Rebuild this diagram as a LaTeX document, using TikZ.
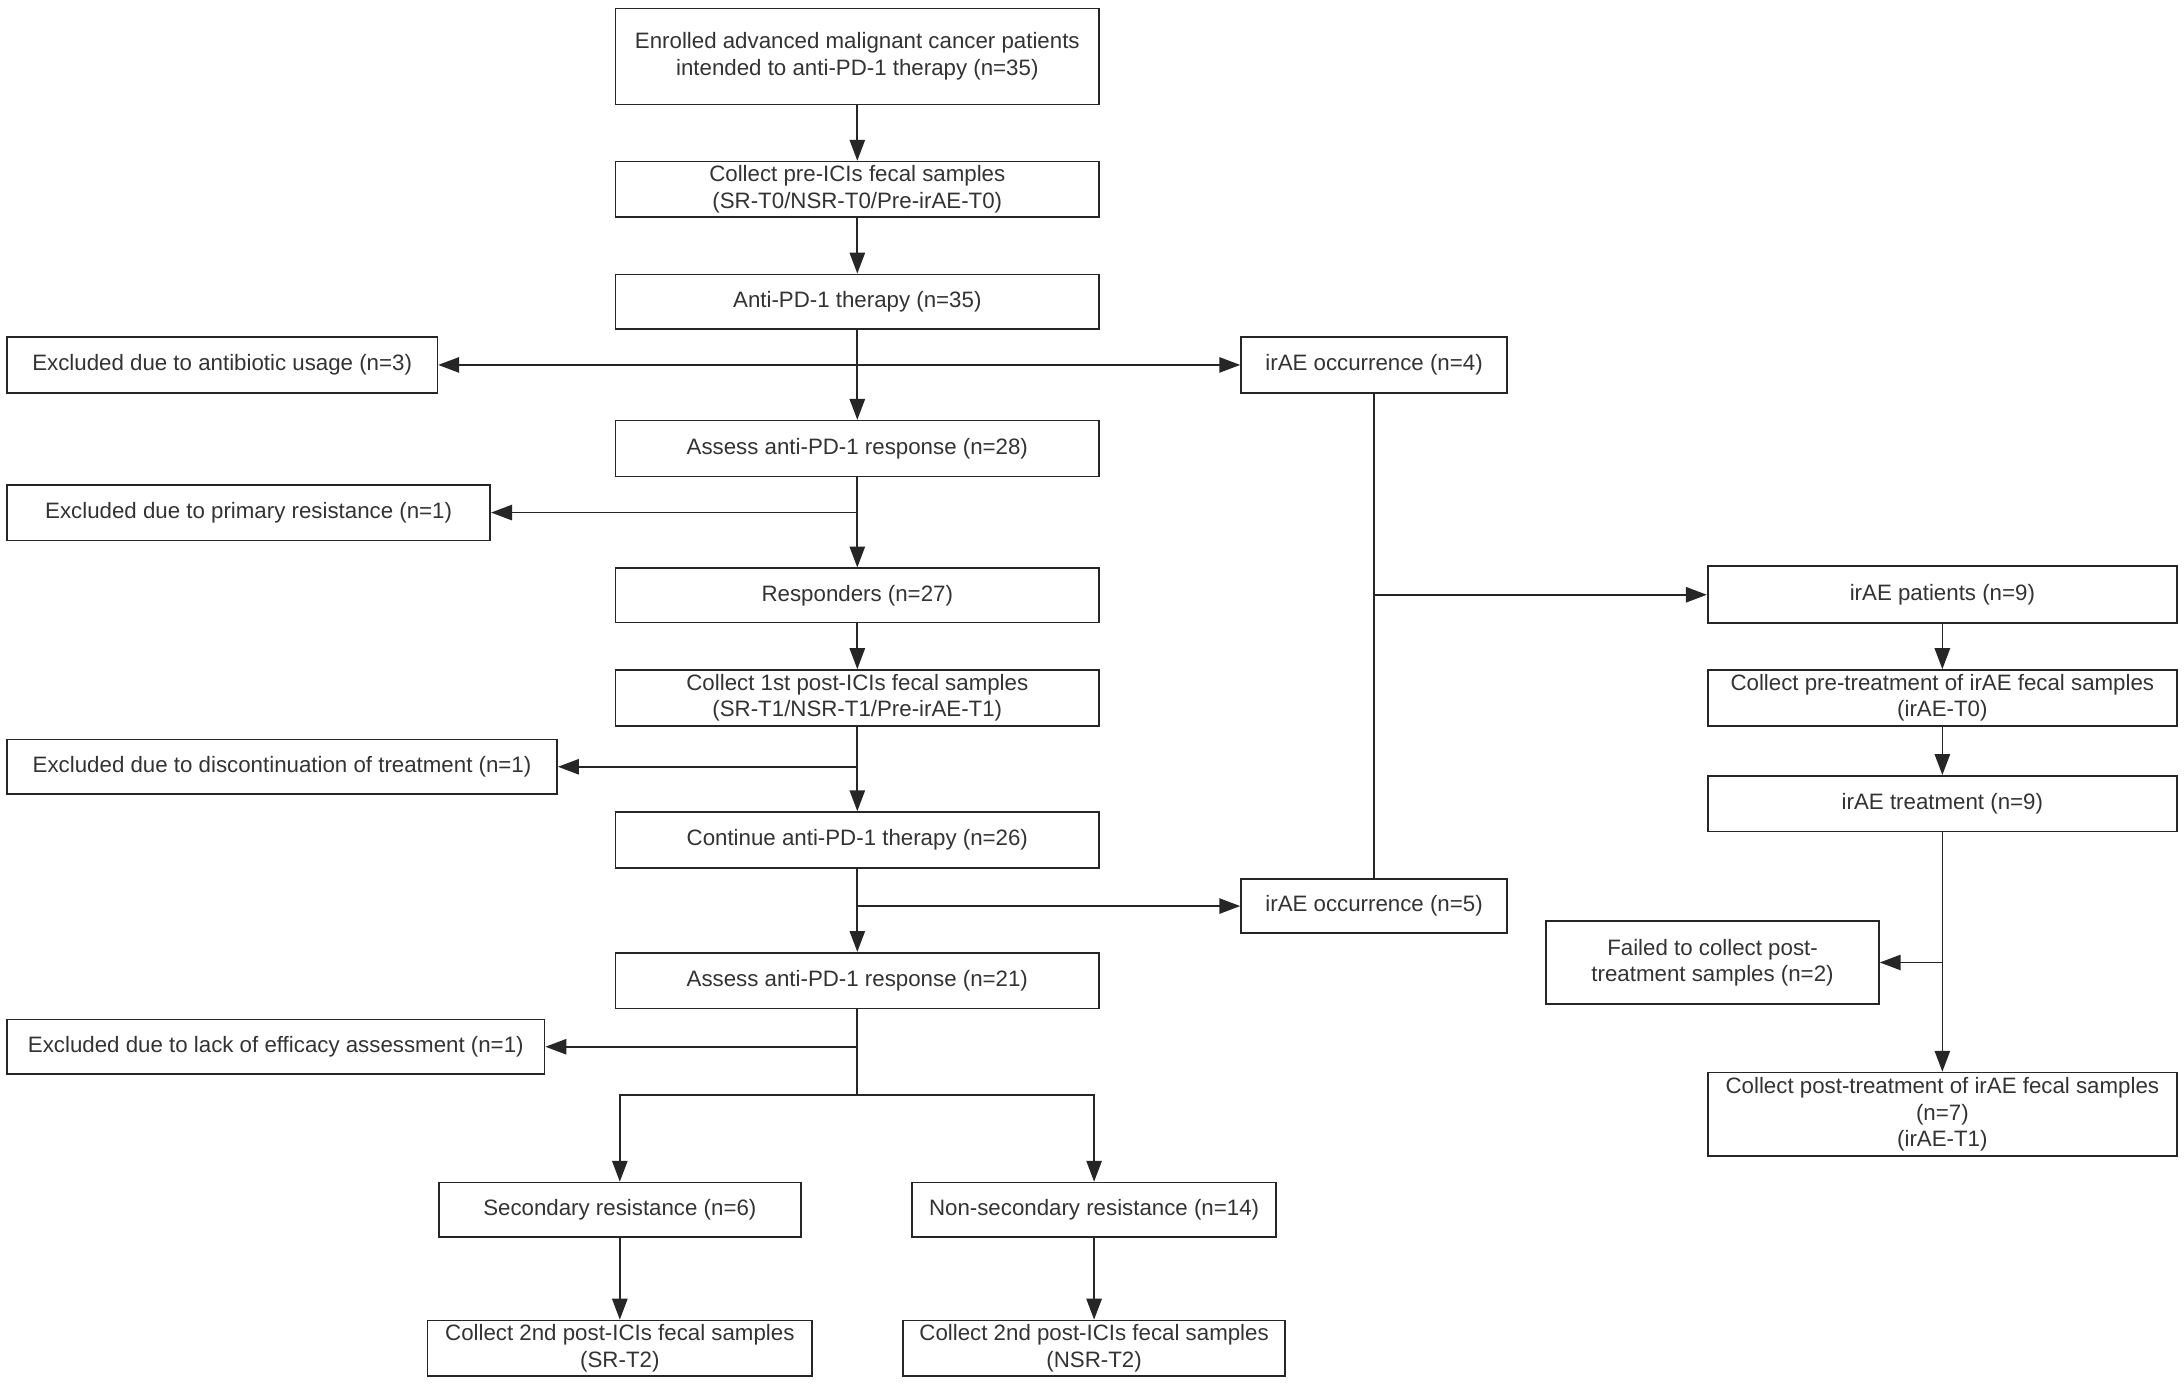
\documentclass[tikz,border=0pt]{standalone}
\usepackage{fontspec}
\setmainfont{Liberation Sans}
\usetikzlibrary{arrows.meta}
\definecolor{txt}{HTML}{333333}
\definecolor{ln}{HTML}{262626}
\begin{document}
\begin{tikzpicture}[x=1pt,y=-1pt,
  box/.style={draw=ln, line width=1.2pt, inner sep=0pt, align=center, text=txt,
    font=\fontsize{16}{19}\selectfont},
  con/.style={draw=ln, line width=1.2pt},
  arr/.style={con, -{Triangle[length=15pt,width=11pt]}}]
\useasboundingbox[fill=white] (0,0) rectangle (1568,993.6);
% main column
\node[box, minimum width=347pt, minimum height=69pt] (b1) at (615.5,40.5) {Enrolled advanced malignant cancer patients\\intended to anti-PD-1 therapy (n=35)};
\node[box, minimum width=347pt, minimum height=40pt] (b2) at (615.5,136) {Collect pre-ICIs fecal samples\\(SR-T0/NSR-T0/Pre-irAE-T0)};
\node[box, minimum width=347pt, minimum height=39pt] (b3) at (615.5,216.5) {Anti-PD-1 therapy (n=35)};
\node[box, minimum width=347pt, minimum height=40pt] (b4) at (615.5,322) {Assess anti-PD-1 response (n=28)};
\node[box, minimum width=347pt, minimum height=39pt] (b5) at (615.5,427.5) {Responders (n=27)};
\node[box, minimum width=347pt, minimum height=40pt] (b6) at (615.5,501) {Collect 1st post-ICIs fecal samples\\(SR-T1/NSR-T1/Pre-irAE-T1)};
\node[box, minimum width=347pt, minimum height=40pt] (b7) at (615.5,603) {Continue anti-PD-1 therapy (n=26)};
\node[box, minimum width=347pt, minimum height=40pt] (b8) at (615.5,704) {Assess anti-PD-1 response (n=21)};
% exclusions
\node[box, minimum width=309pt, minimum height=40pt] (exA) at (159.5,262) {Excluded due to antibiotic usage (n=3)};
\node[box, minimum width=347pt, minimum height=40pt] (exP) at (178.5,368) {Excluded due to primary resistance (n=1)};
\node[box, minimum width=395pt, minimum height=39pt] (exD) at (202.5,550.5) {Excluded due to discontinuation of treatment (n=1)};
\node[box, minimum width=386pt, minimum height=39pt] (exL) at (198,751.5) {Excluded due to lack of efficacy assessment (n=1)};
% bottom
\node[box, minimum width=260pt, minimum height=39pt] (sr) at (445,868.5) {Secondary resistance (n=6)};
\node[box, minimum width=261pt, minimum height=39pt] (nsr) at (785.5,868.5) {Non-secondary resistance (n=14)};
\node[box, minimum width=276pt, minimum height=40pt] (c2sr) at (445,968) {Collect 2nd post-ICIs fecal samples\\(SR-T2)};
\node[box, minimum width=274pt, minimum height=40pt] (c2nsr) at (785.5,968) {Collect 2nd post-ICIs fecal samples\\(NSR-T2)};
% irAE occurrences
\node[box, minimum width=191pt, minimum height=40pt] (ir4) at (986.5,262) {irAE occurrence (n=4)};
\node[box, minimum width=191pt, minimum height=39pt] (ir5) at (986.5,650.5) {irAE occurrence (n=5)};
% right column
\node[box, minimum width=337pt, minimum height=41pt] (rp) at (1394.5,427) {irAE patients (n=9)};
\node[box, minimum width=337pt, minimum height=40pt] (rc0) at (1394.5,501) {Collect pre-treatment of irAE fecal samples\\(irAE-T0)};
\node[box, minimum width=337pt, minimum height=40pt] (rt) at (1394.5,577) {irAE treatment (n=9)};
\node[box, minimum width=239pt, minimum height=60pt] (rf) at (1229.5,691) {Failed to collect post-\\treatment samples (n=2)};
\node[box, minimum width=337pt, minimum height=60pt] (rc1) at (1394.5,800) {Collect post-treatment of irAE fecal samples\\(n=7)\\(irAE-T1)};
% connectors main
\draw[arr] (b1) -- (b2);
\draw[arr] (b2) -- (b3);
\draw[arr] (b3) -- (b4);
\draw[arr] (b3.south |- exA.east) -- (exA.east);
\draw[arr] (b3.south |- ir4.west) -- (ir4.west);
\draw[arr] (b4) -- (b5);
\draw[arr] (b4.south |- exP.east) -- (exP.east);
\draw[arr] (b5) -- (b6);
\draw[arr] (b6) -- (b7);
\draw[arr] (b6.south |- exD.east) -- (exD.east);
\draw[arr] (b7) -- (b8);
\draw[arr] (b7.south |- ir5.west) -- (ir5.west);
\coordinate (j) at (615.5,786);
\draw[con] (b8) -- (j);
\draw[arr] (b8.south |- exL.east) -- (exL.east);
\draw[arr] (j) -| (sr.north);
\draw[arr] (j) -| (nsr.north);
\draw[arr] (sr) -- (c2sr);
\draw[arr] (nsr) -- (c2nsr);
% right connectors
\draw[con] (ir4) -- (ir5);
\draw[arr] (ir4.south |- rp.west) -- (rp.west);
\draw[arr] (rp) -- (rc0);
\draw[arr] (rc0) -- (rt);
\draw[arr] (rt) -- (rc1);
\draw[arr] (rt.south |- rf.east) -- (rf.east);
\end{tikzpicture}
\end{document}
